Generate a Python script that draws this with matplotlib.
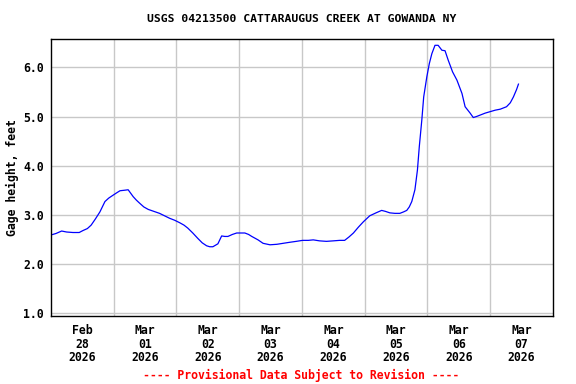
import matplotlib
matplotlib.use("Agg")
import matplotlib.pyplot as plt
from matplotlib.ticker import FixedLocator, FormatStrFormatter

# Time in days since Feb 28 2026 00:00, gage height in feet
days = [0.00, 0.08, 0.17, 0.25, 0.35, 0.45, 0.51, 0.58, 0.64, 0.71, 0.78, 0.86, 0.92, 0.99,
        1.05, 1.10, 1.17, 1.23, 1.27, 1.31, 1.36, 1.41, 1.48, 1.55, 1.64, 1.73, 1.81, 1.89,
        1.97, 2.05, 2.12, 2.18, 2.26, 2.34, 2.41, 2.48, 2.53, 2.58, 2.66, 2.72, 2.77, 2.82,
        2.89, 2.96, 3.03, 3.09, 3.15, 3.20, 3.30, 3.38, 3.49, 3.60, 3.70, 3.80, 3.91, 4.01,
        4.10, 4.18, 4.28, 4.39, 4.50, 4.60, 4.68, 4.75, 4.82, 4.90, 4.98, 5.08, 5.18, 5.27,
        5.33, 5.40, 5.48, 5.56, 5.62, 5.67, 5.71, 5.75, 5.80, 5.84, 5.87, 5.91, 5.94, 5.99,
        6.03, 6.07, 6.12, 6.17, 6.20, 6.23, 6.28, 6.33, 6.40, 6.47, 6.55, 6.60, 6.68, 6.73,
        6.78, 6.84, 6.92, 7.00, 7.08, 7.16, 7.26, 7.32, 7.37, 7.42, 7.45]
height = [2.59, 2.62, 2.67, 2.65, 2.64, 2.64, 2.68, 2.72, 2.79, 2.92, 3.06, 3.27, 3.34, 3.40,
          3.45, 3.49, 3.50, 3.51, 3.44, 3.37, 3.30, 3.24, 3.16, 3.11, 3.07, 3.03, 2.98, 2.93,
          2.89, 2.84, 2.79, 2.73, 2.63, 2.52, 2.43, 2.37, 2.35, 2.35, 2.41, 2.57, 2.56, 2.56,
          2.60, 2.63, 2.63, 2.63, 2.60, 2.56, 2.49, 2.42, 2.39, 2.40, 2.42, 2.44, 2.46, 2.48,
          2.48, 2.49, 2.47, 2.46, 2.47, 2.48, 2.48, 2.55, 2.63, 2.75, 2.86, 2.98, 3.04, 3.09,
          3.07, 3.04, 3.03, 3.03, 3.06, 3.09, 3.16, 3.27, 3.51, 3.91, 4.39, 4.93, 5.40, 5.81,
          6.08, 6.28, 6.45, 6.45, 6.40, 6.35, 6.34, 6.15, 5.91, 5.74, 5.47, 5.20, 5.07, 4.98,
          5.00, 5.03, 5.07, 5.10, 5.13, 5.15, 5.20, 5.28, 5.40, 5.55, 5.66]

tick_pos = [0.5, 1.5, 2.5, 3.5, 4.5, 5.5, 6.5, 7.5]
tick_labels = ["Feb\n28\n2026", "Mar\n01\n2026", "Mar\n02\n2026", "Mar\n03\n2026",
               "Mar\n04\n2026", "Mar\n05\n2026", "Mar\n06\n2026", "Mar\n07\n2026"]
grid_days = [1, 2, 3, 4, 5, 6, 7]
y_ticks = [1.0, 2.0, 3.0, 4.0, 5.0, 6.0]

mono = "DejaVu Sans Mono"
fig = plt.figure(figsize=(5.76, 3.84), dpi=100)
ax = fig.add_axes([0.0885, 0.177, 0.8715, 0.721])
ax.plot(days, height, color="#0000ff", linewidth=0.9)
ax.set_xlim(0, 8)
ax.set_ylim(0.94, 6.575)

ax.xaxis.set_major_locator(FixedLocator(tick_pos))
ax.set_xticklabels(tick_labels)
ax.xaxis.set_minor_locator(FixedLocator(grid_days))
ax.set_yticks(y_ticks)
ax.yaxis.set_major_formatter(FormatStrFormatter("%.1f"))
ax.tick_params(axis="both", which="both", length=0, labelsize=8.3)
ax.tick_params(axis="x", pad=6)
ax.tick_params(axis="y", pad=5)
for lab in ax.get_xticklabels() + ax.get_yticklabels():
    lab.set_fontfamily(mono)
    lab.set_fontweight("bold")
for lab in ax.get_xticklabels():
    lab.set_linespacing(1.02)

ax.grid(True, which="minor", axis="x", color="#c8c8c8", linewidth=1)
ax.grid(True, which="major", axis="y", color="#c8c8c8", linewidth=1)
ax.set_axisbelow(True)
for s in ax.spines.values():
    s.set_linewidth(1.0)
    s.set_color("black")

fig.text(0.524, 0.95, "USGS 04213500 CATTARAUGUS CREEK AT GOWANDA NY", ha="center", va="center",
         fontsize=8.2, fontweight="bold", family=mono)
ax.set_ylabel("Gage height, feet", fontsize=8.3, fontweight="bold", family=mono)
ax.yaxis.set_label_coords(-0.064, 0.5)
fig.text(0.523, 0.023, "---- Provisional Data Subject to Revision ----", ha="center", va="center",
         fontsize=8.3, fontweight="bold", family=mono, color="red")

fig.savefig("out.png", dpi=100)
